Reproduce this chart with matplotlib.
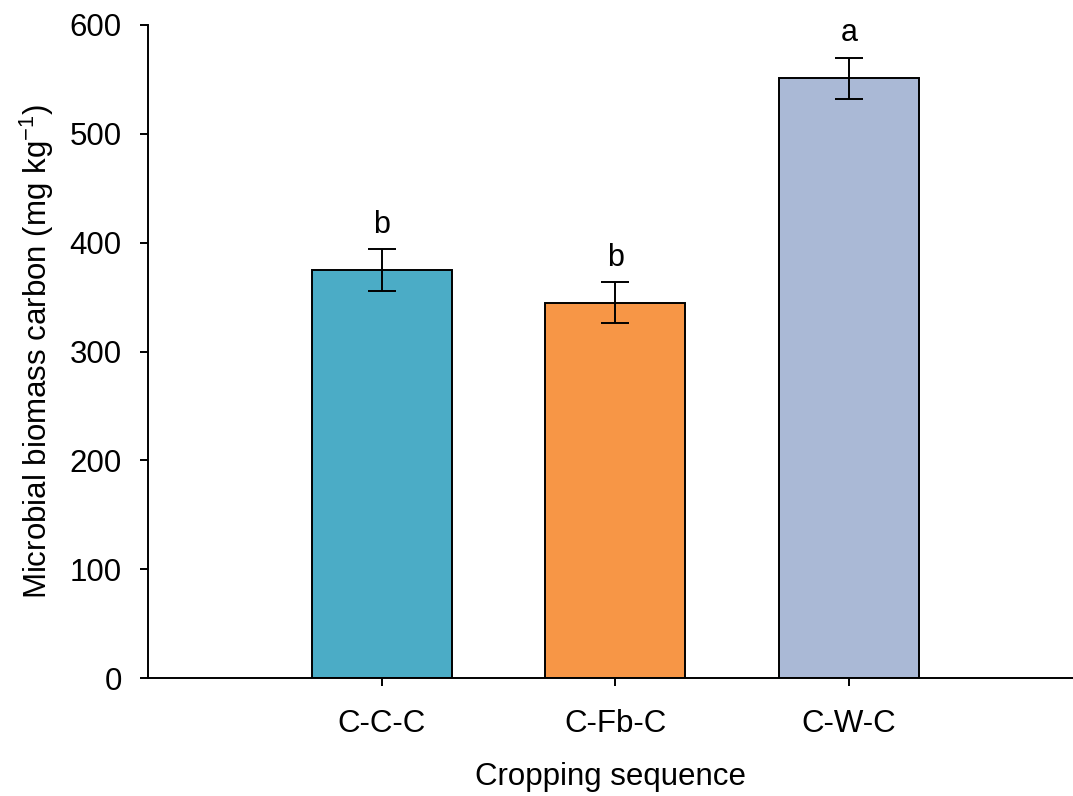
import matplotlib
matplotlib.use("Agg")
import matplotlib.pyplot as plt

plt.rcParams['font.family'] = ['Liberation Sans', 'DejaVu Sans']
plt.rcParams['mathtext.fontset'] = 'custom'
plt.rcParams['mathtext.rm'] = 'Liberation Sans'
plt.rcParams['mathtext.it'] = 'Liberation Sans:italic'

# data
sequences = ["C-C-C", "C-Fb-C", "C-W-C"]
mbc = [375, 345, 551]
mbc_err = [19, 19, 19]
letters = ["b", "b", "a"]
colors = ["#4BACC6", "#F79646", "#AAB9D6"]

fig = plt.figure(figsize=(10.73, 7.96), dpi=100)
ax = fig.add_axes([0.138, 0.148, 0.862, 0.8206])

xpos = [1, 2, 3]
ax.bar(xpos, mbc, width=0.6, color=colors, edgecolor='black', linewidth=1.4, zorder=2)
ax.errorbar(xpos, mbc, yerr=mbc_err, fmt='none', ecolor='black', elinewidth=1.4,
            capsize=10, capthick=1.4, zorder=3)

for x, v, e, s in zip(xpos, mbc, mbc_err, letters):
    ax.text(x, v + e + 15, s, ha='center', va='baseline', fontsize=22)

ax.set_xlim(0, 3.96)
ax.set_ylim(0, 600)
ax.set_yticks(range(0, 601, 100))
ax.set_xticks(xpos)
ax.set_xticklabels(sequences)
ax.tick_params(axis='both', labelsize=22.5, width=1.4, length=6, direction='out')
ax.tick_params(axis='x', pad=16)
ax.tick_params(axis='y', pad=13)

ax.spines['top'].set_visible(False)
ax.spines['right'].set_visible(False)
ax.spines['left'].set_linewidth(1.4)
ax.spines['bottom'].set_linewidth(1.4)

ax.set_xlabel("Cropping sequence", fontsize=22.5, labelpad=17)
ax.set_ylabel(r"Microbial biomass carbon (mg kg$^{-1}$)", fontsize=22.5, labelpad=10)

fig.savefig("out.png", dpi=100)
